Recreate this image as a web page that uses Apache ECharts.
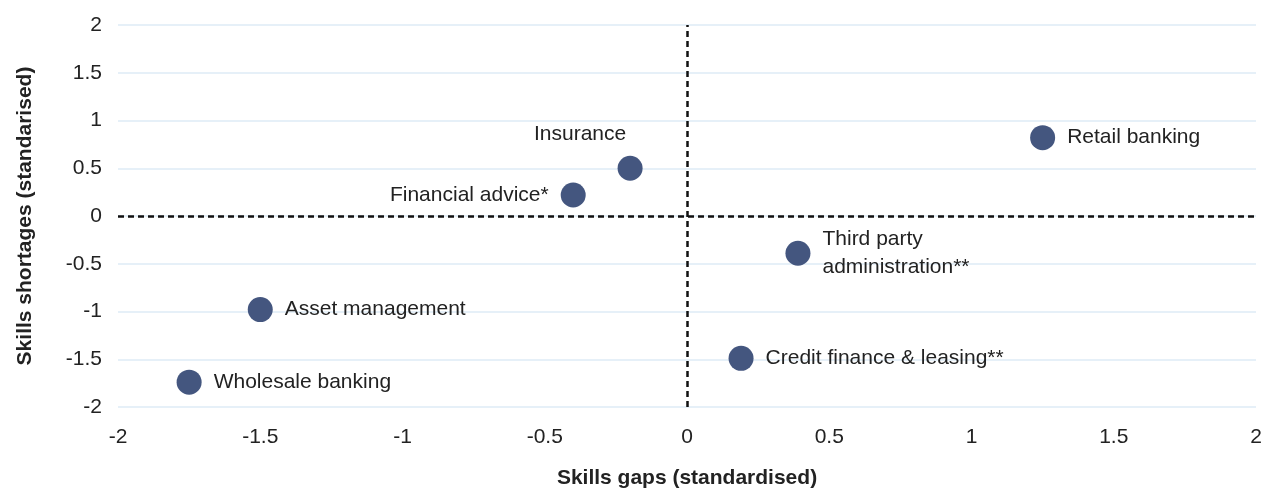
<!DOCTYPE html>
<html>
<head>
<meta charset="utf-8">
<script src="https://cdn.jsdelivr.net/npm/echarts@6/dist/echarts.min.js"></script>
<style>
  html, body { margin: 0; padding: 0; background: #fff; }
  #chart { width: 1268px; height: 491px; }
</style>
</head>
<body>
<div id="chart"></div>
<script>
  // sectors, skills gaps (x) and skills shortages (y), standardised
  var sectors = ['Retail banking', 'Insurance', 'Financial advice*', 'Third party administration**',
    'Asset management', 'Credit finance & leasing**', 'Wholesale banking'];
  var gaps = [1.25, -0.2, -0.4, 0.39, -1.5, 0.19, -1.75];
  var shortages = [0.82, 0.5, 0.22, -0.39, -0.98, -1.49, -1.74];
  var ticks = [-2, -1.5, -1, -0.5, 0, 0.5, 1, 1.5, 2];

  var chart = echarts.init(document.getElementById('chart'));

  var font = 'Liberation Sans, Arial, sans-serif';
  var textColor = '#222';
  var fs = 21;

  // label placement per point
  var labelFor = function (name) {
    if (name === 'Insurance') {
      return { position: 'top', offset: [-50, 0], distance: 8 };
    }
    if (name === 'Financial advice*') {
      return { position: 'left', distance: 12 };
    }
    return { position: 'right', distance: 12 };
  };

  var points = sectors.map(function (name, i) {
    return {
      name: name,
      value: [gaps[i], shortages[i]],
      label: labelFor(name)
    };
  });

  chart.setOption({
    animation: false,
    grid: { left: 118, right: 12, top: 25, bottom: 84, outerBoundsMode: 'none' },
    xAxis: {
      type: 'value',
      min: ticks[0],
      max: ticks[ticks.length - 1],
      interval: 0.5,
      name: 'Skills gaps (standardised)',
      nameLocation: 'middle',
      nameGap: 61,
      nameTextStyle: { fontFamily: font, fontSize: fs, fontWeight: 'bold', color: textColor },
      axisLine: { show: false },
      axisTick: { show: false },
      splitLine: { show: false },
      axisLabel: { fontFamily: font, fontSize: fs, color: textColor, margin: 20 }
    },
    yAxis: {
      type: 'value',
      min: ticks[0],
      max: ticks[ticks.length - 1],
      interval: 0.5,
      name: 'Skills shortages (standarised)',
      nameLocation: 'middle',
      nameGap: 82,
      nameTextStyle: { fontFamily: font, fontSize: fs, fontWeight: 'bold', color: textColor },
      axisLine: { show: false },
      axisTick: { show: false },
      splitLine: { show: true, lineStyle: { color: '#deebf6', width: 1.5 } },
      axisLabel: { fontFamily: font, fontSize: fs, color: textColor, margin: 16 }
    },
    series: [
      {
        type: 'scatter',
        symbol: 'circle',
        symbolSize: 25,
        itemStyle: { color: '#44567f', opacity: 1 },
        data: points,
        label: {
          show: true,
          fontFamily: font,
          fontSize: fs,
          lineHeight: 28,
          color: textColor,
          formatter: function (p) {
            return p.name.replace('Third party ', 'Third party\n');
          }
        },
        markLine: {
          silent: true,
          symbol: 'none',
          label: { show: false },
          lineStyle: { color: '#111', type: [6, 4], width: 2.5 },
          data: [{ xAxis: 0 }, { yAxis: 0 }]
        }
      }
    ]
  });
</script>
</body>
</html>
